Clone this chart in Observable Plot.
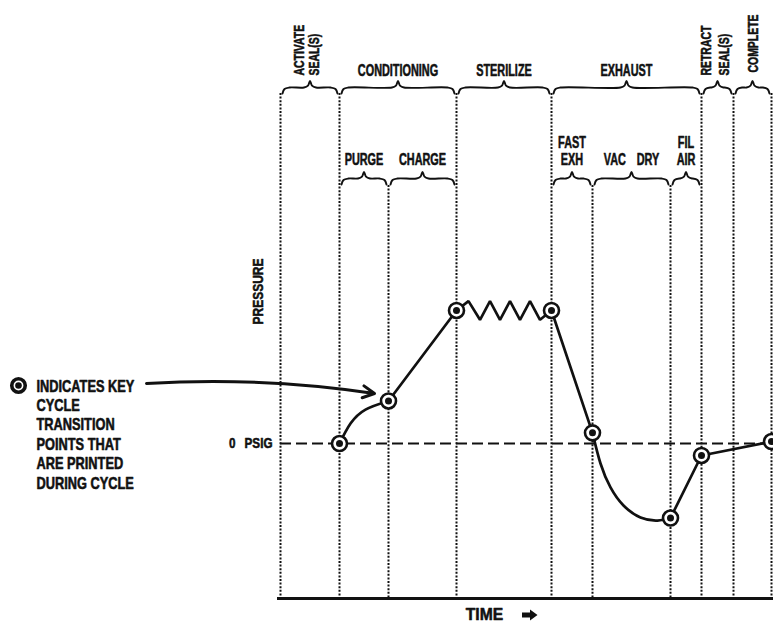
<!DOCTYPE html>
<html><head><meta charset="utf-8">
<script src="https://cdn.jsdelivr.net/npm/d3@7"></script>
<script src="https://cdn.jsdelivr.net/npm/@observablehq/plot@0.6"></script>
<style>
html,body{margin:0;padding:0;background:#fff;}
#chart svg{display:block;}
</style></head><body><div id="chart"></div>
<script>
// ---------- DATA (time in arbitrary units, pressure in arbitrary units, 0 = 0 PSIG) ----------
const mainPhases = ["ACTIVATE\nSEAL(S)", "CONDITIONING", "STERILIZE", "EXHAUST", "RETRACT\nSEAL(S)", "COMPLETE"];
const mainBounds = [0, 11.8, 35.2, 54.2, 84.2, 90.6, 98.2];
const subPhases = ["PURGE", "CHARGE", "FAST\nEXH", "VAC\u2003DRY", "FIL\nAIR"];
const subStarts = [11.8, 21.6, 54.2, 62.4, 78];
const subEnds = [21.6, 35.2, 62.4, 78, 84.2];
const subBounds = [21.6, 62.4, 78];

const keyTimes = [11.8, 21.6, 35.2, 54.2, 62.4, 78, 84.2, 98.2];
const keyPressures = [0, 3.2, 10, 10, 0.8, -5.6, -0.9, 0.15];

// curved purge section
const purgeT = [11.8, 14, 17, 21.6];
const purgeP = [0, 1.5, 2.55, 3.2];
// straight charge + sterilize zig-zag + fast exhaust
const rampT = [21.6, 35.2, 37.6, 39.9, 41.9, 43.9, 45.9, 47.9, 49.9, 51.9, 54.2, 62.4];
const rampP = [3.2, 10, 10.7, 9.3, 10.7, 9.3, 10.7, 9.3, 10.7, 9.3, 10, 0.8];
// curved vacuum section
const vacT = [62.4, 64, 66, 68.6, 72, 75.4, 78];
const vacP = [0.8, -1.5, -3.3, -4.66, -5.56, -5.79, -5.6];
// air fill + retract + complete
const tailT = [78, 84.2, 98.2];
const tailP = [-5.6, -0.9, 0.15];

const legendLines = ["INDICATES KEY", "CYCLE", "TRANSITION", "POINTS THAT", "ARE PRINTED", "DURING CYCLE"];
const zeroLabel = "0\u2002 PSIG";
const yLabel = "PRESSURE";
const xLabel = "TIME";

// ---------- LAYOUT ----------
const W = 773, H = 626;
const xs = d3.scaleLinear().domain([0, 98]).range([280, 770]);
const ys = d3.scaleLinear().domain([-11.65, 33.3]).range([598, 0]);
const T = px => xs.invert(px), P = py => ys.invert(py);
const FONT = "'Liberation Sans',Arial,sans-serif";

const series = (ts, ps, id) => ts.map((t, i) => ({t, p: ps[i], id}));
const curved = [...series(purgeT, purgeP, "purge"), ...series(vacT, vacP, "vac")];
const straight = [...series(rampT, rampP, "ramp"), ...series(tailT, tailP, "tail")];
const keyPts = series(keyTimes, keyPressures, "key");

function brace(a, b, yb, id) {
  const A = xs(a), B = xs(b), m = (A + B) / 2;
  const pts = [[A+2,yb+6],[A+4,yb+1.5],[A+9,yb],[m-6,yb],[m-2,yb-1.8],[m,yb-6.5],[m+2,yb-1.8],[m+6,yb],[B-9,yb],[B-4,yb+1.5],[B-2,yb+6]];
  return pts.map(([x, y]) => ({t: T(x), p: P(y), id}));
}
const braces = [];
mainPhases.forEach((n, i) => braces.push(...brace(mainBounds[i], mainBounds[i+1], 87, "m" + i)));
subPhases.forEach((n, i) => braces.push(...brace(subStarts[i], subEnds[i], 178, "s" + i)));

const vLines = [
  ...mainBounds.map(t => ({t, top: P(93)})),
  ...subBounds.map(t => ({t, top: P(185)}))
];

// block arrow next to TIME (pixel outline -> data units)
const timeArrow = [[522, 612.5, 617.5], [530, 612.5, 617.5], [530, 609.5, 620.5], [537.5, 615, 615]]
  .map(([x, a, b]) => ({t: T(x), lo: P(b), hi: P(a)}));

const txt = {fontFamily: FONT, fontWeight: "bold", fill: "#111", stroke: "#111", strokeWidth: 0.55};
const one = (s, x, y) => [{t: T(x), p: P(y), s}];

const flatMain = [1, 2, 3].map(i => ({t: (mainBounds[i] + mainBounds[i+1]) / 2, p: P(75), s: mainPhases[i]}));
const subLabels = subPhases.map((s, i) => ({t: (subStarts[i] + subEnds[i]) / 2, p: P(164), s}));

// horizontal compression of each text mark (in mark order) to mimic a condensed face
const textScales = [0.8, 0.68, 0.72, 0.72, 0.72, 0.68, 0.78, 0.8, 0.95];

const chart = Plot.plot({
  width: W, height: H, margin: 0,
  x: {domain: xs.domain(), range: xs.range(), axis: null},
  y: {domain: ys.domain(), range: ys.range(), axis: null},
  style: {background: "#fff"},
  marks: [
    Plot.ruleX(vLines, {x: "t", y1: "top", y2: ys.domain()[0], stroke: "#111", strokeWidth: 2, strokeDasharray: "2,1.6"}),
    Plot.ruleY([0], {x1: 0, x2: 98.2, stroke: "#111", strokeWidth: 2, strokeDasharray: "11,5"}),
    Plot.ruleY([ys.domain()[0]], {x1: T(277), x2: T(773), stroke: "#111", strokeWidth: 3}),
    Plot.line(braces, {x: "t", y: "p", z: "id", curve: "catmull-rom", stroke: "#111", strokeWidth: 1.9}),
    Plot.line(straight, {x: "t", y: "p", z: "id", stroke: "#111", strokeWidth: 2.7, strokeLinejoin: "miter"}),
    Plot.line(curved, {x: "t", y: "p", z: "id", curve: "natural", stroke: "#111", strokeWidth: 2.7}),
    Plot.dot(keyPts, {x: "t", y: "p", r: 7.5, fill: "#fff", stroke: "#111", strokeWidth: 2.6}),
    Plot.dot(keyPts, {x: "t", y: "p", r: 3.5, fill: "#111"}),
    Plot.dot(one("", 18, 385), {x: "t", y: "p", r: 6.75, fill: "#fff", stroke: "#111", strokeWidth: 3.6}),
    Plot.dot(one("", 18, 385), {x: "t", y: "p", r: 3.3, fill: "#111"}),
    Plot.arrow([{x1: T(146), y1: P(383), x2: T(374), y2: P(393)}], {x1: "x1", y1: "y1", x2: "x2", y2: "y2", bend: 6, stroke: "#111", strokeWidth: 3, headLength: 6.5, headAngle: 55}),
    Plot.areaY(timeArrow, {x: "t", y1: "lo", y2: "hi", fill: "#111"}),
    // text marks (order matches textScales)
    Plot.text([{t: T(36), p: P(488), s: legendLines.join("\n")}], {x: "t", y: "p", text: "s", textAnchor: "start", lineAnchor: "bottom", fontSize: 16, lineHeight: 19.4 / 16, ...txt}),
    Plot.text(flatMain, {x: "t", y: "p", text: "s", textAnchor: "middle", lineAnchor: "bottom", fontSize: 16, ...txt}),
    Plot.text(one(mainPhases[0], 318, 75), {x: "t", y: "p", text: "s", rotate: -90, textAnchor: "start", lineAnchor: "bottom", fontSize: 14.5, lineHeight: 15 / 14.5, ...txt}),
    Plot.text(one(mainPhases[4], 728, 75), {x: "t", y: "p", text: "s", rotate: -90, textAnchor: "start", lineAnchor: "bottom", fontSize: 14.5, lineHeight: 18 / 14.5, ...txt}),
    Plot.text(one(mainPhases[5], 757, 72), {x: "t", y: "p", text: "s", rotate: -90, textAnchor: "start", lineAnchor: "bottom", fontSize: 14.5, ...txt}),
    Plot.text(subLabels, {x: "t", y: "p", text: "s", textAnchor: "middle", lineAnchor: "bottom", fontSize: 16, lineHeight: 17 / 16, ...txt}),
    Plot.text(one(zeroLabel, 272, 443), {x: "t", y: "p", text: "s", textAnchor: "end", lineAnchor: "middle", fontSize: 15, ...txt}),
    Plot.text(one(yLabel, 258, 291), {x: "t", y: "p", text: "s", rotate: -90, textAnchor: "middle", lineAnchor: "middle", fontSize: 15, ...txt}),
    Plot.text(one(xLabel, 484, 614), {x: "t", y: "p", text: "s", textAnchor: "middle", lineAnchor: "middle", fontSize: 16.5, ...txt})
  ]
});

d3.select(chart).selectAll("g[aria-label='text']").each(function (_, i) {
  const s = textScales[i] ?? 1;
  d3.select(this).selectAll("text").each(function () {
    const tr = this.getAttribute("transform") || "";
    this.setAttribute("transform", `${tr} scale(${s},1)`);
  });
});
document.getElementById("chart").appendChild(chart);
</script></body></html>
